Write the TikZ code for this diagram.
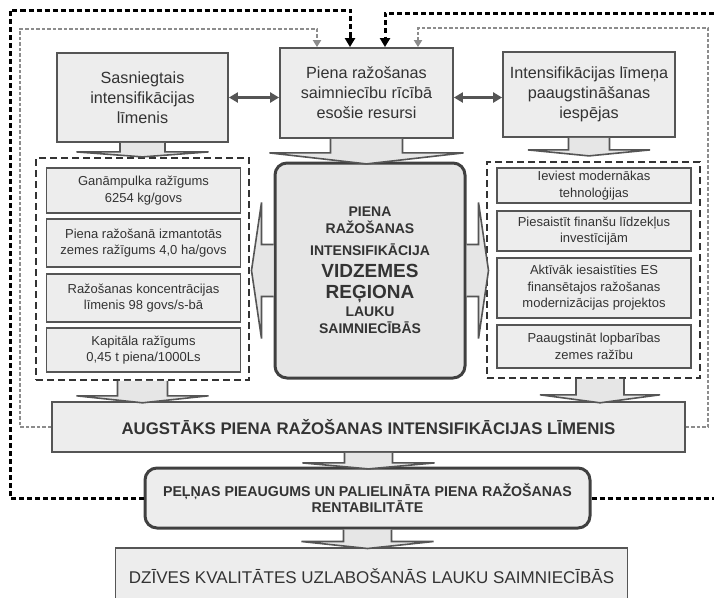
\documentclass[tikz,border=0pt]{standalone}
\usepackage{fontspec}
\setmainfont{Liberation Sans}
\usetikzlibrary{arrows.meta,calc}

\definecolor{boxfill}{HTML}{EDEDED}
\definecolor{corefill}{HTML}{E6E6E6}
\definecolor{boxline}{HTML}{555555}
\definecolor{txt}{HTML}{333333}
\definecolor{dotgrey}{HTML}{8C8C8C}

% wide block arrow pointing down: anchor, stem half width, stem length, head half width, head depth
\newcommand{\bigdown}[5]{%
  \filldraw[bigarrow] ($(#1)+(-#2,0)$) -- ($(#1)+(-#2,#3)$) -- ($(#1)+(-#4,#3)$)
     -- ($(#1)+(0,#3+#5)$) -- ($(#1)+(#4,#3)$) -- ($(#1)+(#2,#3)$) -- ($(#1)+(#2,0)$);}
\newcommand{\coresmall}{\fontsize{14}{17}\selectfont}
\newcommand{\corelarge}{\fontsize{19}{22}\selectfont}

\begin{document}
\begin{tikzpicture}[x=1pt,y=-1pt,text=txt]
            \tikzstyle{topbox}=[rectangle,draw=boxline,line width=1.8pt,fill=boxfill,align=center,font=\fontsize{16.2}{20}\selectfont]
            \tikzstyle{item}=[rectangle,draw=boxline,line width=1.5pt,fill=boxfill,align=center,font=\fontsize{13}{16.5}\selectfont,minimum width=194pt]
            \tikzstyle{group}=[rectangle,draw=black!80,line width=1.6pt,dash pattern=on 7pt off 4pt,minimum width=213pt]
            \tikzstyle{core}=[rectangle,rounded corners=12pt,draw=black!75,line width=3pt,fill=corefill,align=center,font=\bfseries\fontsize{14}{17}\selectfont]
            \tikzstyle{wide}=[rectangle,draw=boxline,line width=1.8pt,fill=boxfill,align=center]
            \tikzstyle{bigarrow}=[draw=boxline,line width=1.6pt,fill=corefill,line join=miter]
            \tikzstyle{biarrow}=[draw=boxline,line width=2.6pt,{Triangle[length=9pt,width=10pt]}-{Triangle[length=9pt,width=10pt]}]
            \tikzstyle{blackdash}=[draw=black,line width=3pt,dash pattern=on 5pt off 3pt,-{Triangle[length=9pt,width=10pt]}]
            \tikzstyle{greydot}=[draw=dotgrey,line width=2.2pt,dash pattern=on 3.5pt off 2pt,-{Triangle[length=7pt,width=8pt]}]
            \useasboundingbox (0,0) rectangle (714,597);
            \begin{scope}
               % top row
               \node [topbox,minimum width=171pt,minimum height=89pt] (reached) at (142.5,97.5) {Sasniegtais\\intensifikācijas\\līmenis};
               \node [topbox,minimum width=173pt,minimum height=90pt] (res) at (366.5,93) {Piena ražošanas\\saimniecību rīcībā\\esošie resursi};
               \node [topbox,minimum width=172pt,minimum height=85pt] (opp) at (589,94.5) {Intensifikācijas līmeņa\\paaugstināšanas\\iespējas};
               \path[biarrow] (reached.east) -- (reached.east -| res.west);
               \path[biarrow] (res.east |- reached.east) -- (reached.east -| opp.west);
               % left group
               \node [group,minimum height=222pt] (ldash) at (142.5,269) {};
               \node [item,minimum height=45pt] (l1) at (143.5,190.5) {Ganāmpulka ražīgums\\6254 kg/govs};
               \node [item,minimum height=48pt] (l2) at (143.5,243) {Piena ražošanā izmantotās\\zemes ražīgums 4,0 ha/govs};
               \node [item,minimum height=48pt] (l3) at (143.5,298) {Ražošanas koncentrācijas\\līmenis 98 govs/s-bā};
               \node [item,minimum height=44pt] (l4) at (143.5,350) {Kapitāla ražīgums\\0,45 t piena/1000Ls};
               % right group
               \node [group,minimum height=216pt] (rdash) at (593.5,270) {};
               \node [item,minimum height=35pt] (r1) at (594,185.5) {Ieviest modernākas\\tehnoloģijas};
               \node [item,minimum height=40pt] (r2) at (594,231) {Piesaistīt finanšu līdzekļus\\investīcijām};
               \node [item,minimum height=60pt] (r3) at (594,288) {Aktīvāk iesaistīties ES\\finansētajos ražošanas\\modernizācijas projektos};
               \node [item,minimum height=43pt] (r4) at (594,346.5) {Paaugstināt lopbarības\\zemes ražību};
               % centre
               \node [core,minimum width=190pt,minimum height=215pt] (core) at (370,270.5) {%
                  {\coresmall PIENA}\\{\coresmall RAŽOŠANAS}\\[5pt]{\coresmall INTENSIFIKĀCIJA}\\[5pt]
                  {\corelarge VIDZEMES}\\[4pt]{\corelarge REĢIONA}\\[1pt]
                  {\coresmall LAUKU}\\{\coresmall SAIMNIECĪBĀS}};
               % bottom
               \node [wide,minimum width=633pt,minimum height=50pt,font=\bfseries\fontsize{16.8}{20}\selectfont] (augst) at (368.5,427) {AUGSTĀKS PIENA RAŽOŠANAS INTENSIFIKĀCIJAS LĪMENIS};
               \node [wide,rounded corners=12pt,draw=black!75,line width=3pt,minimum width=445pt,minimum height=60pt,font=\bfseries\fontsize{14.2}{16}\selectfont] (pelnas) at (367.5,498) {PEĻŅAS PIEAUGUMS UN PALIELINĀTA PIENA RAŽOŠANAS\\RENTABILITĀTE};
               \node [wide,minimum width=512pt,minimum height=56pt,font=\fontsize{17}{20}\selectfont] (dzives) at (371.5,576) {DZĪVES KVALITĀTES UZLABOŠANĀS LAUKU SAIMNIECĪBĀS};
               % block arrows
               \bigdown{reached.south}{22.5}{9}{66}{5}
               \bigdown{res.south}{36}{14}{97}{11}
               \bigdown{opp.south}{20.5}{12}{61}{6}
               \bigdown{ldash.south}{25}{15}{66}{7}
               \bigdown{rdash.south -| 600,0}{24}{16}{60}{8}
               \bigdown{augst.south}{24}{10}{66}{6}
               \bigdown{pelnas.south}{24}{12}{66}{7}
               \filldraw[bigarrow] ($(core.west)+(0,-26)$) -- ++(-12,0) -- ++(0,-42) -- ($(core.west)+(-22,0)$) -- ($(core.west)+(-12,68)$) -- ++(0,-42) -- ($(core.west)+(0,26)$);
               \filldraw[bigarrow] ($(core.east)+(0,-26)$) -- ++(12,0) -- ++(0,-42) -- ($(core.east)+(22,0)$) -- ($(core.east)+(12,68)$) -- ++(0,-42) -- ($(core.east)+(0,26)$);
               % feedback loops
               \coordinate (blk1) at (10,10);
               \coordinate (blk2) at (718,13);
               \coordinate (gry1) at (20,29);
               \coordinate (gry2) at (708,28);
               \path[blackdash] (pelnas.west) -| (blk1) -| ([xshift=-16.5pt]res.north);
               \path[blackdash] (pelnas.east) -| (blk2) -| ([xshift=18.5pt]res.north);
               \path[greydot] (augst.west) -| (gry1) -| ([xshift=-49.5pt]res.north);
               \path[greydot] (augst.east) -| (gry2) -| ([xshift=51.5pt]res.north);
            \end{scope}
        \end{tikzpicture}
\end{document}
